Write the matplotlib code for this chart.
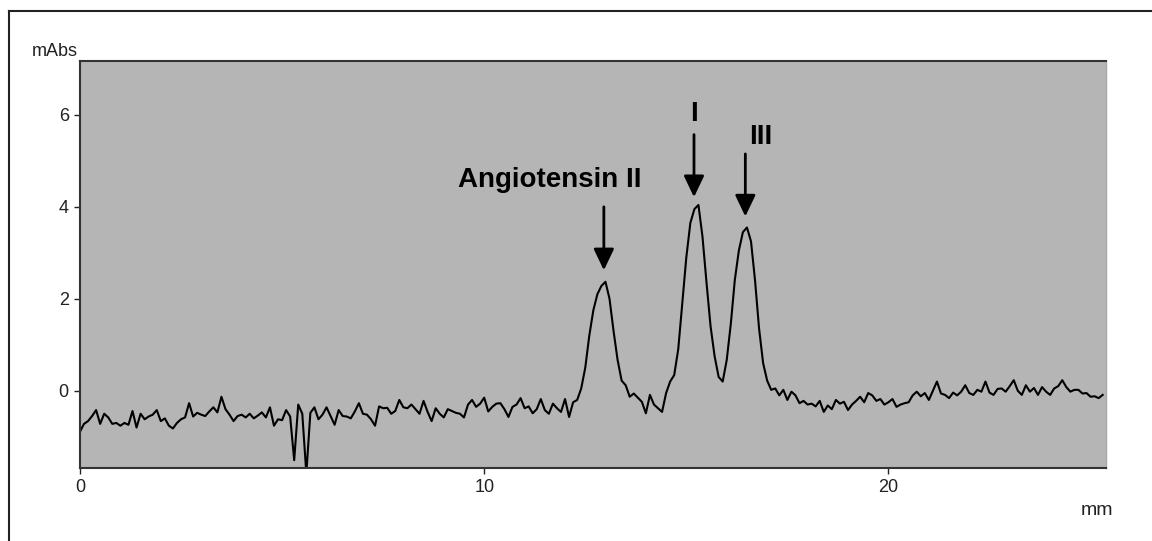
import numpy as np
import matplotlib.pyplot as plt
from matplotlib.lines import Line2D

# chromatogram trace, one reading every 0.1 mm starting at 0
time_step = 0.1
absorbance = [
    -0.89, -0.72, -0.66, -0.55, -0.42, -0.72, -0.50, -0.58, -0.72, -0.70,
    -0.76, -0.70, -0.74, -0.44, -0.80, -0.50, -0.62, -0.56, -0.52, -0.42,
    -0.66, -0.60, -0.76, -0.82, -0.70, -0.62, -0.58, -0.27, -0.56, -0.48,
    -0.52, -0.55, -0.45, -0.36, -0.47, -0.13, -0.40, -0.52, -0.66, -0.55,
    -0.52, -0.58, -0.50, -0.60, -0.54, -0.47, -0.58, -0.36, -0.76, -0.62,
    -0.64, -0.42, -0.56, -1.51, -0.30, -0.50, -1.80, -0.48, -0.36, -0.62,
    -0.52, -0.36, -0.55, -0.74, -0.42, -0.55, -0.56, -0.60, -0.45, -0.27,
    -0.50, -0.52, -0.62, -0.76, -0.34, -0.38, -0.37, -0.50, -0.44, -0.20,
    -0.36, -0.38, -0.30, -0.40, -0.50, -0.22, -0.46, -0.66, -0.38, -0.50,
    -0.58, -0.40, -0.44, -0.48, -0.50, -0.58, -0.30, -0.20, -0.35, -0.28,
    -0.15, -0.45, -0.35, -0.28, -0.27, -0.40, -0.57, -0.35, -0.30, -0.16,
    -0.38, -0.34, -0.49, -0.40, -0.18, -0.42, -0.50, -0.28, -0.38, -0.46,
    -0.18, -0.57, -0.25, -0.20, 0.05, 0.50, 1.20, 1.75, 2.10, 2.28,
    2.37, 2.00, 1.30, 0.67, 0.22, 0.12, -0.13, -0.06, -0.15, -0.24,
    -0.49, -0.09, -0.30, -0.38, -0.46, -0.05, 0.20, 0.34, 0.90, 1.90,
    2.90, 3.65, 3.95, 4.04, 3.35, 2.35, 1.40, 0.75, 0.30, 0.20,
    0.67, 1.45, 2.41, 3.05, 3.45, 3.55, 3.25, 2.40, 1.35, 0.60,
    0.22, 0.02, 0.05, -0.10, 0.02, -0.20, -0.02, -0.10, -0.27, -0.22,
    -0.30, -0.28, -0.34, -0.22, -0.46, -0.32, -0.40, -0.20, -0.28, -0.24,
    -0.42, -0.30, -0.22, -0.13, -0.25, -0.05, -0.10, -0.22, -0.18, -0.30,
    -0.25, -0.18, -0.35, -0.30, -0.27, -0.25, -0.10, -0.02, -0.12, -0.05,
    -0.20, 0.00, 0.20, -0.06, -0.09, -0.16, -0.04, -0.10, -0.02, 0.12,
    -0.05, -0.09, 0.02, -0.02, 0.20, -0.04, -0.09, 0.04, 0.05, -0.02,
    0.10, 0.23, 0.00, -0.09, 0.12, -0.02, 0.06, -0.09, 0.08, -0.02,
    -0.09, 0.05, 0.10, 0.23, 0.08, -0.02, 0.02, 0.02, -0.06, -0.05,
    -0.13, -0.12, -0.16, -0.09,
]

# peak labels: text, text position, arrow start (top), arrow tip
peak_names = ["Angiotensin II", "I", "III"]
label_x = [11.63, 15.19, 16.84]
label_y = [4.59, 6.01, 5.51]
arrow_x = [12.96, 15.19, 16.46]
arrow_top = [4.00, 5.57, 5.15]
arrow_tip = [2.62, 4.21, 3.79]

x_ticks = [0, 10, 20]
y_ticks = [0, 2, 4, 6]

plt.rcParams['font.family'] = ['Liberation Sans', 'DejaVu Sans']

fig = plt.figure(figsize=(11.52, 5.41), dpi=100)
fig.patch.set_facecolor('white')
ax = fig.add_axes([0.0694, 0.1349, 0.8906, 0.7523])
ax.set_facecolor('#b5b5b5')

y = np.array(absorbance)
x = np.arange(len(y)) * time_step
ax.plot(x, y, color='black', lw=1.5)

for name, lx, ly, ax_x, top, tip in zip(peak_names, label_x, label_y,
                                        arrow_x, arrow_top, arrow_tip):
    ax.text(lx, ly, name, ha='center', va='center', fontsize=20,
            fontweight='bold', color='black')
    ax.annotate('', xy=(ax_x, tip), xytext=(ax_x, top),
                arrowprops=dict(arrowstyle='-|>,head_length=1.3,head_width=0.62',
                                color='black', lw=2, shrinkA=0, shrinkB=0))

ax.set_xlim(0, 25.38)
ax.set_ylim(-1.68, 7.17)
ax.set_xticks(x_ticks)
ax.set_yticks(y_ticks)
ax.tick_params(direction='out', length=4, width=1, labelsize=13,
               colors='#222222', pad=4)

for side in ['left', 'bottom', 'top']:
    ax.spines[side].set_color('#333333')
    ax.spines[side].set_linewidth(1.5)
ax.spines['right'].set_color('#a8a8a8')
ax.spines['right'].set_linewidth(1.0)

fig.text(0.0477, 0.9039, 'mAbs', ha='center', va='center', fontsize=13,
         color='#222222')
fig.text(0.9523, 0.0573, 'mm', ha='center', va='center', fontsize=14,
         color='#222222')

# outer frame: only its top and left edges fall inside the picture
frame_x = 9 / 1152
frame_y = 1 - 11 / 541
fig.add_artist(Line2D([frame_x, 1.0], [frame_y, frame_y],
                      transform=fig.transFigure, color='#222222', lw=1.5))
fig.add_artist(Line2D([frame_x, frame_x], [0.0, frame_y],
                      transform=fig.transFigure, color='#222222', lw=1.5))

fig.savefig('out.png', dpi=100)
